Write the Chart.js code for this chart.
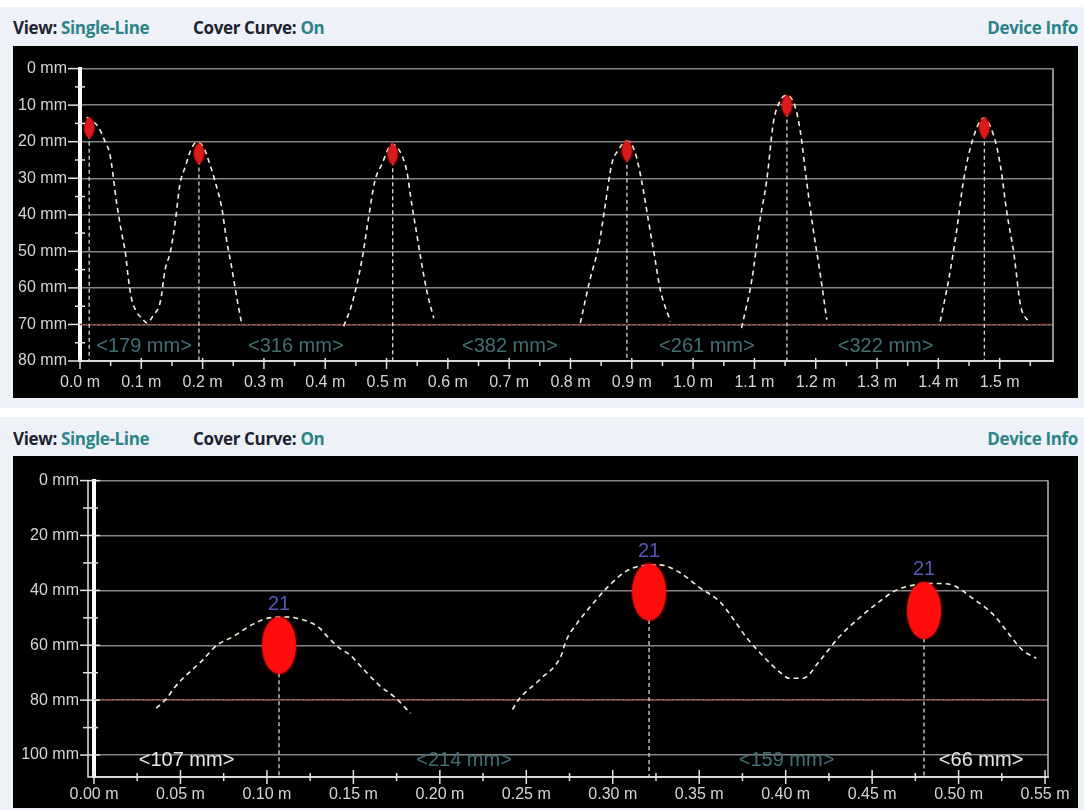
<!DOCTYPE html>
<html><head><meta charset="utf-8">
<script src="https://cdn.jsdelivr.net/npm/chart.js@4.4.1/dist/chart.umd.min.js"></script>
<style>
html,body{margin:0;padding:0;background:#fff;width:1084px;height:810px;overflow:hidden;position:relative;}
.band{position:absolute;left:0;width:1084px;background:#eef2f8;}
.hdr{position:absolute;font-family:"Open Sans",sans-serif;font-weight:700;font-size:17px;color:#1d2230;white-space:nowrap;line-height:22px;letter-spacing:-0.35px;}
.hdr span{color:#2c8489;}
.plot{position:absolute;left:13px;width:1065px;height:352px;background:#000;}
canvas{display:block;}
</style></head><body>
<div class="band" style="top:7px;height:401px"></div>
<div class="band" style="top:417px;height:393px"></div>
<div class="hdr" style="left:13px;top:17px">View: <span>Single-Line</span></div>
<div class="hdr" style="left:193px;top:17px">Cover Curve: <span>On</span></div>
<div class="hdr" style="right:6px;top:17px"><span>Device Info</span></div>
<div class="hdr" style="left:13px;top:428px">View: <span>Single-Line</span></div>
<div class="hdr" style="left:193px;top:428px">Cover Curve: <span>On</span></div>
<div class="hdr" style="right:6px;top:428px"><span>Device Info</span></div>
<div class="plot" style="top:46px"><canvas id="c1" width="1065" height="352"></canvas></div>
<div class="plot" style="top:456px"><canvas id="c2" width="1065" height="352"></canvas></div>
<script>
// ================= DATA: top scan =================
const topXTicks = [0,0.1,0.2,0.3,0.4,0.5,0.6,0.7,0.8,0.9,1.0,1.1,1.2,1.3,1.4,1.5];
const topXMinor = [0.05,0.15,0.25,0.35,0.45,0.55,0.65,0.75,0.85,0.95,1.05,1.15,1.25,1.35,1.45,1.55];
const topYTicks = [0,10,20,30,40,50,60,70,80];
const topYMinor = [5,15,25,35,45,55,65,75];
const topRebarX = [0.015,0.194,0.510,0.892,1.153,1.475];
const topRebarDepth = [16.2,23.2,23.4,22.5,10.1,16.2];
const topSpacing = [179,316,382,261,322];
const topThreshold = 70;
const topCurveX = [
  0.011,0.030,0.041,0.049,0.060,0.068,0.074,0.079,0.084,0.092,0.101,0.109,0.120,0.131,0.139,0.147,0.155,0.163,0.171,0.182,0.190,0.201,0.212,0.220,0.231,0.239,0.247,0.256,0.264,
  0.35,
  0.430,0.443,0.460,0.470,0.481,0.492,0.509,0.522,0.533,0.541,0.549,0.557,0.566,0.577,
  0.70,
  0.816,0.832,0.846,0.857,0.867,0.878,0.892,0.905,0.916,0.927,0.938,0.946,0.963,
  1.02,
  1.079,1.096,1.109,1.120,1.131,1.142,1.153,1.166,1.175,1.185,1.196,1.207,1.218,
  1.31,
  1.403,1.417,1.430,1.441,1.455,1.474,1.490,1.501,1.512,1.523,1.534,1.547
];
const topCurveY = [
  13.3,16.0,20.0,23.6,37.0,45.0,50.4,57.6,62.9,66.5,68.3,69.6,67.4,63.8,54.9,50.4,42.4,31.6,27.2,21.8,20.2,21.4,26.3,30.7,37.9,46.8,54.0,62.9,70.1,
  null,
  70.5,64.7,52.2,41.5,30.7,26.3,20.7,22.7,28.1,37.0,45.0,53.1,61.1,68.3,
  null,
  69.6,57.6,48.6,37.0,26.3,22.3,19.8,22.7,30.7,41.5,52.2,60.2,69.2,
  null,
  71.0,57.6,41.5,30.7,14.7,8.8,7.3,10.2,17.3,30.7,44.1,55.8,68.7,
  null,
  69.2,57.6,44.1,30.7,20.0,13.6,18.2,26.3,39.7,50.4,64.7,69.3
];

// ================= DATA: bottom scan =================
const botXTicks = [0,0.05,0.10,0.15,0.20,0.25,0.30,0.35,0.40,0.45,0.50,0.55];
const botXMinor = [0.025,0.075,0.125,0.175,0.225,0.275,0.325,0.375,0.425,0.475,0.525];
const botYTicks = [0,20,40,60,80,100];
const botYMinor = [10,30,50,70,90];
const botRebarX = [0.107,0.321,0.480];
const botRebarDepth = [60.0,40.6,47.3];
const botRebarSize = [21,21,21];
const botSpacing = [107,214,159,66];
const botScanStart = 0;
const botScanEnd = 0.546;
const botThreshold = 80;
const botCurveX = [
  0.036,0.042,0.046,0.051,0.057,0.063,0.071,0.080,0.092,0.100,0.111,0.123,0.130,0.136,0.142,0.148,0.154,0.165,0.175,0.183,
  0.21,
  0.242,0.246,0.258,0.270,0.273,0.279,0.288,0.298,0.308,0.316,0.327,0.339,0.350,0.362,0.369,0.377,0.387,0.397,0.402,0.410,0.420,0.431,0.443,0.454,0.464,0.477,0.489,0.497,0.508,0.520,0.529,0.537,0.545
];
const botCurveY = [
  82.9,79.4,75.9,72.3,68.8,65.3,60.0,57.0,52.3,50.2,49.7,51.2,53.5,57.5,61.0,63.5,67.5,74.6,79.5,84.8,
  null,
  83.4,79.5,72.4,64.0,58.3,52.3,45.2,38.2,32.9,31.1,30.7,33.6,38.9,44.2,49.8,56.9,64.0,70.0,72.0,72.0,65.4,56.9,49.8,44.2,39.9,37.8,37.5,38.2,42.8,48.8,55.8,61.8,64.7
];

// ================= helpers =================
function pts(xs, ys){ return xs.map((x,i)=>({x:x, y:ys[i]})); }
function rebarLines(xs, ds, bottom){
  const out = [];
  xs.forEach((x,i)=>{ out.push({x:x,y:ds[i]}); out.push({x:x,y:bottom}); out.push({x:x,y:null}); });
  return out;
}
function makeMarker(w, h, kind){
  const pad = 4;
  const c = document.createElement('canvas');
  c.width = w + pad*2; c.height = h + pad*2;
  const g = c.getContext('2d');
  g.shadowColor = 'rgba(255,20,20,0.7)'; g.shadowBlur = 3;
  g.beginPath();
  const cx = c.width/2;
  if (kind === 'leaf'){
    g.fillStyle = '#dc1a1a';
    g.moveTo(cx, pad);
    g.bezierCurveTo(cx + w*0.75, pad + h*0.35, cx + w*0.45, pad + h*0.8, cx, pad + h);
    g.bezierCurveTo(cx - w*0.45, pad + h*0.8, cx - w*0.75, pad + h*0.35, cx, pad);
  } else {
    g.fillStyle = '#ff0c0c';
    g.ellipse(cx, c.height/2, w/2, h/2, 0, 0, Math.PI*2);
  }
  g.fill();
  return c;
}

const panelDecor = {
  id: 'panelDecor',
  afterDatasetsDraw(chart, args, o){
    const {ctx, chartArea:a, scales:{x,y}} = chart;
    ctx.save();
    ctx.textAlign = 'center'; ctx.textBaseline = 'middle';
    ctx.font = '20px "Liberation Sans", Arial, sans-serif';
    o.spans.forEach(s=>{
      const px = (x.getPixelForValue(s.from) + x.getPixelForValue(s.to))/2;
      ctx.fillStyle = s.color;
      ctx.fillText(s.text, px, a.bottom - o.spanLift);
    });
    (o.sizes||[]).forEach(s=>{
      ctx.fillStyle = '#5656b8';
      ctx.fillText(String(s.text), x.getPixelForValue(s.x), y.getPixelForValue(s.y) - 41);
    });
    ctx.restore();
  },
  afterDraw(chart, args, o){
    const {ctx, chartArea:a, scales:{x,y}} = chart;
    ctx.save();
    ctx.strokeStyle = '#bdbdbd'; ctx.lineWidth = 1.5;
    ctx.beginPath(); ctx.moveTo(a.right, a.top); ctx.lineTo(a.right, a.bottom); ctx.stroke();
    ctx.strokeStyle = '#e2e2e2'; ctx.lineWidth = 1.5;
    if (o.innerLine){
      ctx.beginPath(); ctx.moveTo(a.left + o.innerLine, a.top); ctx.lineTo(a.left + o.innerLine, a.bottom);
      ctx.lineTo(a.left, a.bottom); ctx.stroke();
    }
    const seg = (x1,y1,x2,y2)=>{ ctx.beginPath(); ctx.moveTo(x1,y1); ctx.lineTo(x2,y2); ctx.stroke(); };
    o.yMajor.forEach(v=>{ const p = y.getPixelForValue(v); seg(a.left + o.ym[0], p, a.left + o.ym[1], p); });
    o.yMinor.forEach(v=>{ const p = y.getPixelForValue(v); seg(a.left + o.yn[0], p, a.left + o.yn[1], p); });
    o.xMajor.forEach(v=>{ const p = x.getPixelForValue(v); seg(p, a.bottom + o.xm[0], p, a.bottom + o.xm[1]); });
    o.xMinor.forEach(v=>{ const p = x.getPixelForValue(v); if (p <= a.right + 1) seg(p, a.bottom + o.xn[0], p, a.bottom + o.xn[1]); });
    ctx.restore();
  }
};

function makeChart(id, cfg){
  const tickFont = {family:'"Liberation Sans", Arial, sans-serif', size:16};
  const datasets = [
    {data: cfg.markers, showLine:false, pointStyle: cfg.markerImg, pointRadius: 12, order: 0, clip:false},
    {data: cfg.curve, borderColor:'#f3f0dc', borderWidth:1.6, borderDash:[5,4], pointRadius:0, cubicInterpolationMode:'monotone', order:1, clip:false},
    {data: cfg.rebarLines, borderColor:'#d8d8d8', borderWidth:1.3, borderDash:[4,3], pointRadius:0, order:2},
    {data: cfg.threshold, borderColor:'#8b2c2c', borderWidth:1.6, borderDash:[3,2], pointRadius:0, order:3}
  ];
  return new Chart(document.getElementById(id), {
    type:'line',
    data:{datasets},
    options:{
      responsive:false, animation:false, devicePixelRatio:1, events:[],
      layout:{padding:{top:16, right:cfg.padRight, left:0, bottom:0}},
      plugins:{legend:{display:false}, tooltip:{enabled:false}, panelDecor: cfg.decor},
      scales:{
        x:{type:'linear', min:0, max:cfg.xMax,
           afterBuildTicks: s=>{ s.ticks = cfg.xTicks.map(v=>({value:v})); },
           afterFit: s=>{ s.height = cfg.xAxisH; },
           grid:{display:false, drawTicks:false},
           border:{display:true, color:'#d9d9d9', width:2},
           ticks:{autoSkip:false, maxRotation:0, padding:cfg.xPad, color:'#d6d6d6', font:tickFont,
                  callback: v => v.toFixed(cfg.xDec) + ' m'}},
        y:{type:'linear', reverse:true, min:0, max:cfg.yMax,
           afterBuildTicks: s=>{ s.ticks = cfg.yTicks.map(v=>({value:v})); },
           afterFit: s=>{ s.width = cfg.yAxisW; },
           grid:{color:'#858585', lineWidth:1.5, drawTicks:false},
           border:{display:true, color:'#ffffff', width:4},
           ticks:{padding:cfg.yPad, color:'#d6d6d6', font:tickFont, callback: v => v + ' mm'}}
      }
    },
    plugins:[panelDecor]
  });
}

// ----- top chart -----
const topSpans = topSpacing.map((s,i)=>({from: topRebarX[i], to: topRebarX[i+1], text:'<' + s + ' mm>', color:'#426e74'}));
makeChart('c1', {
  xMax:1.587, yMax:80, xTicks:topXTicks, yTicks:topYTicks, xDec:1,
  xAxisH:37, yAxisW:67, padRight:25, xPad:12, yPad:13,
  markers: pts(topRebarX, topRebarDepth),
  markerImg: makeMarker(11, 22, 'leaf'),
  curve: pts(topCurveX, topCurveY),
  rebarLines: rebarLines(topRebarX, topRebarDepth, 80),
  threshold: [{x:0, y:topThreshold}, {x:1.587, y:topThreshold}],
  decor:{spans: topSpans, spanLift:15, sizes:[],
         yMajor: topYTicks, yMinor: topYMinor, xMajor: topXTicks, xMinor: topXMinor,
         ym:[-12,0], yn:[-5,5], xm:[-3,8], xn:[-1,5], innerLine:0}
});

// ----- bottom chart -----
const botEdges = [botScanStart].concat(botRebarX, [botScanEnd]);
const botSpans = botSpacing.map((s,i)=>({from: botEdges[i], to: botEdges[i+1], text:'<' + s + ' mm>',
  color: (i === 0 || i === botSpacing.length-1) ? '#e6e6e6' : '#426e74'}));
makeChart('c2', {
  xMax:0.5517, yMax:108, xTicks:botXTicks, yTicks:botYTicks, xDec:2,
  xAxisH:31, yAxisW:81, padRight:30, xPad:8, yPad:15,
  markers: pts(botRebarX, botRebarDepth),
  markerImg: makeMarker(34, 57, 'ellipse'),
  curve: pts(botCurveX, botCurveY),
  rebarLines: rebarLines(botRebarX, botRebarDepth, 108),
  threshold: [{x:0, y:botThreshold}, {x:0.5517, y:botThreshold}],
  decor:{spans: botSpans, spanLift:17,
         sizes: botRebarX.map((x,i)=>({x:x, y:botRebarDepth[i], text:botRebarSize[i]})),
         yMajor: botYTicks, yMinor: botYMinor, xMajor: botXTicks, xMinor: botXMinor,
         ym:[-14,6], yn:[-11,4], xm:[-7,7], xn:[-4,4], innerLine:-6}
});
</script>
</body></html>
